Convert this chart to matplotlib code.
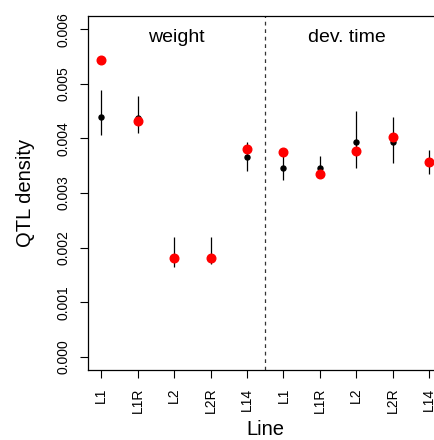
import numpy as np
import matplotlib
matplotlib.use("Agg")
import matplotlib.pyplot as plt

plt.rcParams['font.family'] = ['Liberation Sans', 'DejaVu Sans']

# data
lines = ["L1", "L1R", "L2", "L2R", "L14", "L1", "L1R", "L2", "L2R", "L14"]
observed = [0.00439, 0.00437, 0.00181, 0.00181, 0.00366,
            0.00346, 0.00346, 0.00394, 0.00394, 0.00356]
err_low = [0.00407, 0.00410, 0.00165, 0.00170, 0.00341,
           0.00323, 0.00332, 0.00346, 0.00355, 0.00334]
err_high = [0.00488, 0.00478, 0.00219, 0.00219, 0.00394,
            0.00372, 0.00367, 0.00451, 0.00440, 0.00379]
expected = [0.00544, 0.00432, 0.00181, 0.00181, 0.00381,
            0.00375, 0.00334, 0.00377, 0.00403, 0.00357]
groups = ["weight", "dev. time"]

x = np.arange(1, len(lines) + 1)

fig = plt.figure(figsize=(4.34, 4.40), dpi=100)
ax = fig.add_axes([0.2028, 0.1591, 0.8166, 0.8045])

ax.vlines(x, err_low, err_high, color='black', lw=0.9, zorder=2)
ax.plot(x, observed, 'o', color='black', ms=3.6, zorder=3)
ax.plot(x, expected, 'o', color='red', ms=6.2, zorder=4)
ax.axvline(5.5, color='#333333', lw=0.9, ls=(0, (3, 3)), zorder=1)

ax.text(3.07, 0.00585, groups[0], ha='center', va='center', fontsize=14)
ax.text(7.74, 0.00585, groups[1], ha='center', va='center', fontsize=14)

ax.set_xlim(0.64, 10.36)
ax.set_ylim(-0.00024, 0.00624)
ax.set_xticks(x)
ax.set_xticklabels(lines, rotation=90, fontsize=10)
yt = np.arange(0, 0.0061, 0.001)
ax.set_yticks(yt)
ax.set_yticklabels(["%.3f" % v for v in yt], rotation=90, va='center', fontsize=10)
ax.tick_params(direction='out', length=5.8, width=0.8, pad=7)
for s in ax.spines.values():
    s.set_linewidth(0.9)

ax.set_xlabel("Line", fontsize=14.5, labelpad=5)
ax.set_ylabel("QTL density", fontsize=14.5, labelpad=15)

fig.savefig("out.png", dpi=100)
